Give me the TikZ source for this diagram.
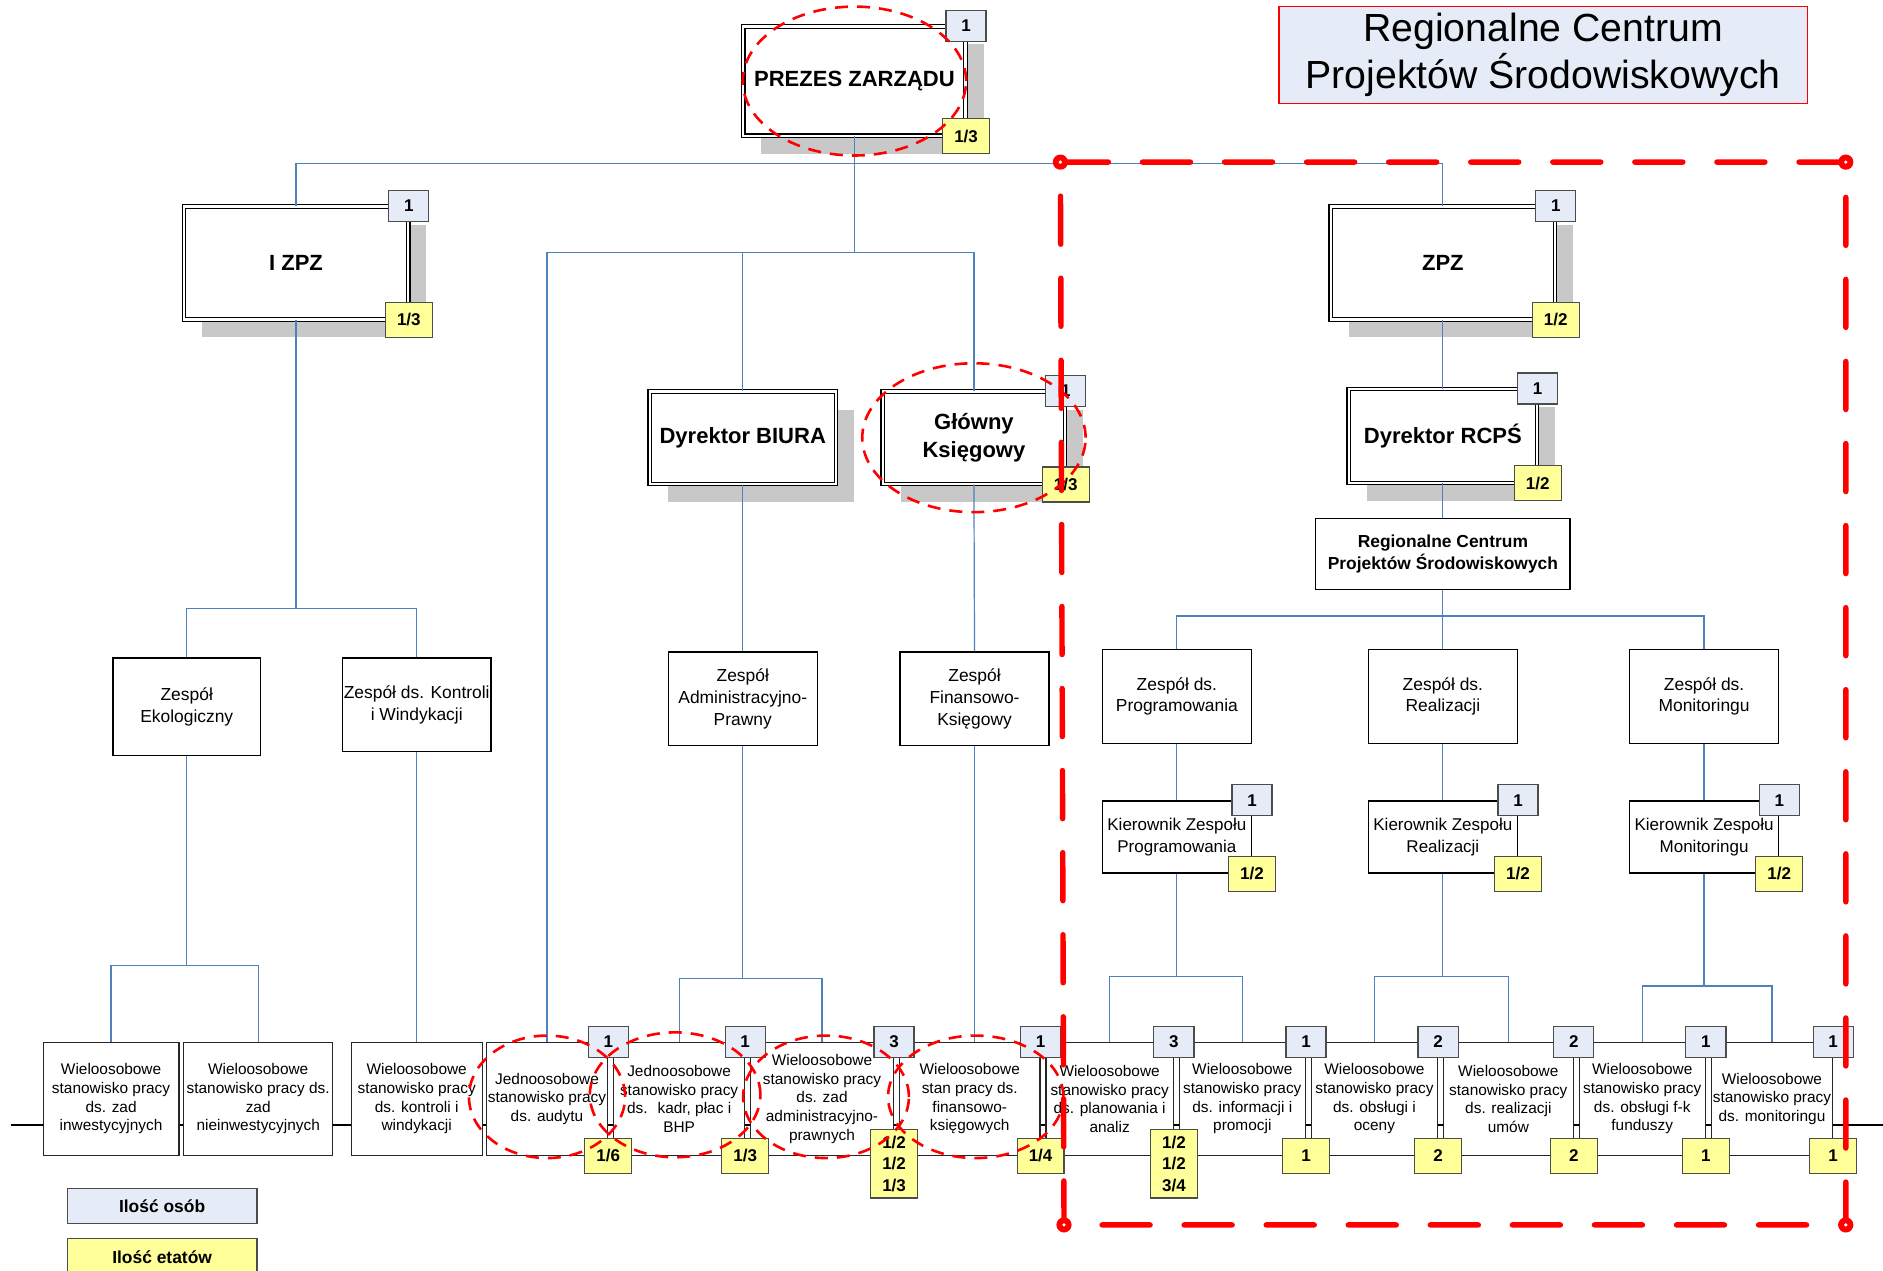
\documentclass[tikz,border=0pt]{standalone}
\usepackage{fontspec}
\setmainfont{Liberation Sans}
\usetikzlibrary{shadows}

\definecolor{osoby}{RGB}{230,236,247}
\definecolor{etaty}{RGB}{255,255,153}
\definecolor{linia}{RGB}{79,129,189}
\definecolor{cien}{RGB}{200,200,200}

\tikzset{
  chief/.style={draw=black, line width=0.55pt, double=white, double distance=1.1pt, fill=white, align=center, inner sep=1pt, font=\bfseries\fontsize{11}{13.8}\selectfont},
  with shadow/.style={drop shadow={shadow xshift=9pt, shadow yshift=-9pt, fill=cien, opacity=1}},
  team/.style={draw=black, line width=0.7pt, fill=white, align=center, inner sep=0.3pt, minimum width=74.4pt, minimum height=46.8pt, font=\fontsize{8.7}{10.8}\selectfont},
  post/.style={draw=black!85, line width=0.6pt, fill=white, align=center, inner sep=0.3pt, minimum height=56.4pt, font=\fontsize{7.7}{9.3}\selectfont},
  osob/.style={draw=black!70, line width=0.6pt, fill=osoby, minimum width=20pt, minimum height=15.5pt, inner sep=0pt, font=\bfseries\fontsize{8.5}{10}\selectfont},
  etat/.style={draw=black!70, line width=0.6pt, fill=etaty, minimum width=23.4pt, minimum height=17.4pt, inner sep=0pt, align=center, font=\bfseries\fontsize{8.5}{10.8}\selectfont},
  link/.style={draw=linia, line width=0.6pt},
  ring/.style={draw=red, line width=1.3pt, dash pattern=on 6.5pt off 4.5pt},
  zone/.style={draw=red, line width=2.7pt, line cap=round, dash pattern=on 24pt off 17pt},
}

\begin{document}
\begin{tikzpicture}[x=0.6pt, y=-0.6pt]

\useasboundingbox (0,0) rectangle (1568,1058);

\coordinate (bustop) at (0,136);
\coordinate (busbiuro) at (0,210);
\coordinate (busizpz) at (0,507);
\coordinate (buseko) at (0,804);
\coordinate (busadm) at (0,815);
\coordinate (busrcps) at (0,513);
\coordinate (busprog) at (0,813);
\coordinate (busmon) at (0,821);
\coordinate (rowW) at (9,937);
\coordinate (rowE) at (1568,937);

\node[draw=red, line width=0.6pt, fill=osoby, minimum width=264pt, minimum height=46.8pt, align=center, font=\fontsize{19.6}{23.4}\selectfont] (title) at (1285,46) {Regionalne Centrum\\Projektów Środowiskowych};

% kierownictwo
\node[chief, with shadow, minimum width=111pt, minimum height=54.6pt] (prezes) at (711.5,67.5) {PREZES ZARZĄDU};
\node[chief, with shadow, minimum width=112.2pt, minimum height=56.4pt] (izpz) at (246.5,219) {I ZPZ};
\node[chief, with shadow, minimum width=112.2pt, minimum height=56.4pt] (zpz) at (1201.5,219) {ZPZ};
\node[chief, with shadow, minimum width=93pt, minimum height=46.2pt] (biuro) at (618.5,364.5) {Dyrektor BIURA};
\node[chief, with shadow, minimum width=91.2pt, minimum height=46.2pt] (ksieg) at (811,364.5) {Główny\\Księgowy};
\node[chief, with shadow, minimum width=94.2pt, minimum height=46.8pt] (rcps) at (1201.5,363) {Dyrektor RCPŚ};
\node[draw=black, line width=0.7pt, fill=white, align=center, minimum width=127.2pt, minimum height=35.4pt, font=\bfseries\fontsize{8.7}{10.8}\selectfont] (rcpsbox) at (1201.5,461.5) {Regionalne Centrum\\Projektów Środowiskowych};

% zespoly
\node[team, minimum width=73.8pt, minimum height=48.6pt] (eko) at (155.5,588.5) {Zespół\\Ekologiczny};
\node[team] (kontr) at (347,587) {Zespół ds. Kontroli\\i Windykacji};
\node[team] (admz) at (618.5,582) {Zespół\\Administracyjno-\\Prawny};
\node[team] (finz) at (811.5,582) {Zespół\\Finansowo-\\Księgowy};
\node[team] (prog) at (980,580) {Zespół ds.\\Programowania};
\node[team] (real) at (1201.5,580) {Zespół ds.\\Realizacji};
\node[team] (monit) at (1419,580) {Zespół ds.\\Monitoringu};
\node[team, minimum height=36pt, font=\fontsize{8.5}{10.8}\selectfont] (kprog) at (980,697) {Kierownik Zespołu\\Programowania};
\node[team, minimum height=36pt, font=\fontsize{8.5}{10.8}\selectfont] (kreal) at (1201.5,697) {Kierownik Zespołu\\Realizacji};
\node[team, minimum height=36pt, font=\fontsize{8.5}{10.8}\selectfont] (kmon) at (1419,697) {Kierownik Zespołu\\Monitoringu};

% stanowiska
\draw[line width=0.9pt] (rowW) -- (rowE);
\node[post, minimum width=67.8pt] (inwest) at (92.5,915) {Wieloosobowe\\stanowisko pracy\\ds. zad\\inwestycyjnych};
\node[post, minimum width=74.4pt] (nieinw) at (215,915) {Wieloosobowe\\stanowisko pracy ds.\\zad\\nieinwestycyjnych};
\node[post, minimum width=65.4pt] (windyk) at (347,915) {Wieloosobowe\\stanowisko pracy\\ds. kontroli i\\windykacji};
\node[post, minimum width=60.6pt] (audyt) at (455.5,915) {Jednoosobowe\\stanowisko pracy\\ds. audytu};
\node[post, minimum width=65.4pt] (kadr) at (565.5,915) {Jednoosobowe\\stanowisko pracy\\ds.~ kadr, płac i\\BHP};
\node[post, minimum width=71.4pt] (admp) at (684.5,915) {Wieloosobowe\\stanowisko pracy\\ds. zad\\administracyjno-\\prawnych};
\node[post, minimum width=70.2pt] (finans) at (807.5,915) {Wieloosobowe\\stan pracy ds.\\finansowo-\\księgowych};
\node[post, minimum width=63.6pt] (plan) at (924,915) {Wieloosobowe\\stanowisko pracy\\ds. planowania i\\analiz};
\node[post, minimum width=63pt] (inform) at (1034.5,915) {Wieloosobowe\\stanowisko pracy\\ds. informacji i\\promocji};
\node[post, minimum width=63pt] (obsl) at (1144.5,915) {Wieloosobowe\\stanowisko pracy\\ds. obsługi i\\oceny};
\node[post, minimum width=64.8pt] (umow) at (1256,915) {Wieloosobowe\\stanowisko pracy\\ds. realizacji\\umów};
\node[post, minimum width=63pt] (fk) at (1367.5,915) {Wieloosobowe\\stanowisko pracy\\ds. obsługi f-k\\funduszy};
\node[post, minimum width=60.6pt] (monst) at (1475.5,915) {Wieloosobowe\\stanowisko pracy\\ds. monitoringu};

% polaczenia
\draw[link] (izpz.north) -- (izpz.north |- bustop) -| (zpz.north);
\draw[link] (prezes.south) -- (prezes.south |- busbiuro);
\draw[link] (audyt.north) -- (audyt.north |- busbiuro) -| (ksieg.north);
\draw[link] (biuro.north) -- (biuro.north |- busbiuro);
\draw[link] (izpz.south) -- (izpz.south |- busizpz);
\draw[link] (eko.north) -- (eko.north |- busizpz) -| (kontr.north);
\draw[link] (eko.south) -- (eko.south |- buseko);
\draw[link] (inwest.north) -- (inwest.north |- buseko) -| (nieinw.north);
\draw[link] (kontr.south) -- (windyk.north);
\draw[link] (biuro.south) -- (admz.north);
\draw[link] (admz.south) -- (admz.south |- busadm);
\draw[link] (kadr.north) -- (kadr.north |- busadm) -| (admp.north);
\draw[link] (ksieg.south) -- (finz.north);
\draw[link] (finz.south) -- (finz.south |- finans.north);
\draw[link] (zpz.south) -- (rcps.north);
\draw[link] (rcps.south) -- (rcpsbox.north);
\draw[link] (rcpsbox.south) -- (rcpsbox.south |- busrcps);
\draw[link] (prog.north) -- (prog.north |- busrcps) -| (monit.north);
\draw[link] (real.north) -- (real.north |- busrcps);
\draw[link] (prog.south) -- (kprog.north);
\draw[link] (real.south) -- (kreal.north);
\draw[link] (monit.south) -- (kmon.north);
\draw[link] (kprog.south) -- (kprog.south |- busprog);
\draw[link] (plan.north) -- (plan.north |- busprog) -| (inform.north);
\draw[link] (kreal.south) -- (kreal.south |- busprog);
\draw[link] (obsl.north) -- (obsl.north |- busprog) -| (umow.north);
\draw[link] (kmon.south) -- (kmon.south |- busmon);
\draw[link] (fk.north) -- (fk.north |- busmon) -| (monst.north);

% ilosc osob / etatow
\node[osob] (prezes-o) at (prezes.north east) {1};
\node[etat] (prezes-e) at (prezes.south east) {1/3};
\node[osob] (izpz-o) at (izpz.north east) {1};
\node[etat] (izpz-e) at (izpz.south east) {1/3};
\node[osob] (zpz-o) at (zpz.north east) {1};
\node[etat] (zpz-e) at (zpz.south east) {1/2};
\node[osob] (ksieg-o) at (ksieg.north east) {1};
\node[etat] (ksieg-e) at (ksieg.south east) {1/3};
\node[osob] (rcps-o) at (rcps.north east) {1};
\node[etat] (rcps-e) at (rcps.south east) {1/2};
\node[osob] (kprog-o) at (kprog.north east) {1};
\node[etat] (kprog-e) at (kprog.south east) {1/2};
\node[osob] (kreal-o) at (kreal.north east) {1};
\node[etat] (kreal-e) at (kreal.south east) {1/2};
\node[osob] (kmon-o) at (kmon.north east) {1};
\node[etat] (kmon-e) at (kmon.south east) {1/2};

\node[osob] (audyt-o) at (audyt.north east) {1};
\node[etat] (audyt-e) at (audyt.south east) {1/6};
\node[osob] (kadr-o) at (kadr.north east) {1};
\node[etat] (kadr-e) at (kadr.south east) {1/3};
\node[osob] (admp-o) at (admp.north east) {3};
\node[etat, minimum height=34.2pt, yshift=-3.9pt] (admp-e) at (admp.south east) {1/2\\1/2\\1/3};
\node[osob] (finans-o) at (finans.north east) {1};
\node[etat] (finans-e) at (finans.south east) {1/4};
\node[osob] (plan-o) at (plan.north east) {3};
\node[etat, minimum height=34.2pt, yshift=-3.9pt] (plan-e) at (plan.south east) {1/2\\1/2\\3/4};
\node[osob] (inform-o) at (inform.north east) {1};
\node[etat] (inform-e) at (inform.south east) {1};
\node[osob] (obsl-o) at (obsl.north east) {2};
\node[etat] (obsl-e) at (obsl.south east) {2};
\node[osob] (umow-o) at (umow.north east) {2};
\node[etat] (umow-e) at (umow.south east) {2};
\node[osob] (fk-o) at (fk.north east) {1};
\node[etat] (fk-e) at (fk.south east) {1};
\node[osob] (monst-o) at (monst.north east) {1};
\node[etat] (monst-e) at (monst.south east) {1};

% legenda
\node[osob, minimum width=94.8pt, minimum height=17.4pt, font=\bfseries\fontsize{8.7}{10}\selectfont] (leg-osob) at (135,1004.5) {Ilość osób};
\node[etat, minimum width=94.8pt, minimum height=18.6pt, font=\bfseries\fontsize{8.7}{10}\selectfont] (leg-etat) at (135,1046.5) {Ilość etatów};

% zaznaczenia
\draw[ring] (prezes.center) ellipse [x radius=55.8pt, y radius=37.2pt];
\draw[ring] (ksieg.center) ellipse [x radius=55.8pt, y radius=37.2pt];
\draw[ring] ([yshift=1pt]audyt.center) ellipse [x radius=39pt, y radius=30.6pt];
\draw[ring] ([xshift=-2pt,yshift=2pt]kadr.center) ellipse [x radius=42.6pt, y radius=31.2pt];
\draw[ring] ([xshift=2pt,yshift=1pt]admp.center) ellipse [x radius=41.4pt, y radius=30.6pt];
\draw[ring] ([xshift=3pt,yshift=1pt]finans.center) ellipse [x radius=43.8pt, y radius=30.6pt];

\coordinate (zoneNW) at (883,135);
\coordinate (zoneNE) at (1537,135);
\coordinate (zoneSE) at (1537,1020);
\coordinate (zoneSW) at (886,1020);
\draw[zone] (zoneNW) -- (zoneNE) -- (zoneSE) -- (zoneSW) -- cycle;
\foreach \c in {zoneNW,zoneNE,zoneSE,zoneSW} {
  \fill[red] (\c) circle (3.8pt);
  \fill[white] (\c) circle (0.9pt);
}

\end{tikzpicture}
\end{document}
